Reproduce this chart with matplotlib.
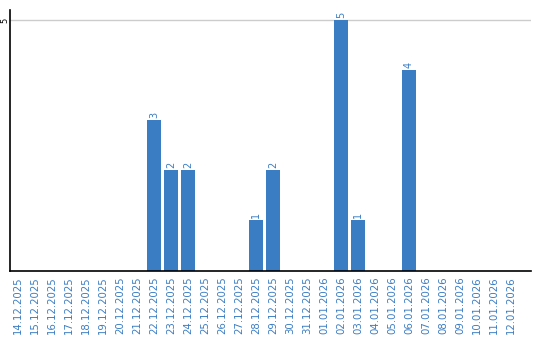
import matplotlib
matplotlib.use("Agg")
import matplotlib.pyplot as plt

dates = ["14.12.2025", "15.12.2025", "16.12.2025", "17.12.2025", "18.12.2025",
         "19.12.2025", "20.12.2025", "21.12.2025", "22.12.2025", "23.12.2025",
         "24.12.2025", "25.12.2025", "26.12.2025", "27.12.2025", "28.12.2025",
         "29.12.2025", "30.12.2025", "31.12.2025", "01.01.2026", "02.01.2026",
         "03.01.2026", "04.01.2026", "05.01.2026", "06.01.2026", "07.01.2026",
         "08.01.2026", "09.01.2026", "10.01.2026", "11.01.2026", "12.01.2026"]
counts = [0, 0, 0, 0, 0, 0, 0, 0, 3, 2,
          2, 0, 0, 0, 1, 2, 0, 0, 0, 5,
          1, 0, 0, 4, 0, 0, 0, 0, 0, 0]

BLUE = "#3b7dc3"

fig = plt.figure(figsize=(5.4, 3.4), dpi=100)
ax = fig.add_axes([0.0194, 0.204, 0.964, 0.767])

x = list(range(len(dates)))
ax.bar(x, counts, width=0.82, color=BLUE, zorder=2)

for xi, v in zip(x, counts):
    if v > 0:
        ax.text(xi, v + 0.04, str(v), rotation=90, ha="center", va="bottom",
                fontsize=7, color=BLUE)

ax.set_xlim(-0.44, 30.18)
ax.set_ylim(0, 5.2)
ax.set_yticks([5])
ax.set_yticklabels(["5"], rotation=90, va="center", ha="center", fontsize=6)
ax.grid(True, axis="y", color="#cccccc", linewidth=1, zorder=0)

ax.set_xticks(x)
ax.set_xticklabels(dates, rotation=90, fontsize=7.3, color=BLUE)
ax.tick_params(axis="x", length=0, pad=4)
ax.tick_params(axis="y", length=0, pad=4)

for s in ["top", "right"]:
    ax.spines[s].set_visible(False)
for s in ["left", "bottom"]:
    ax.spines[s].set_color("black")
    ax.spines[s].set_linewidth(1.2)

fig.savefig("out.png", dpi=100)
